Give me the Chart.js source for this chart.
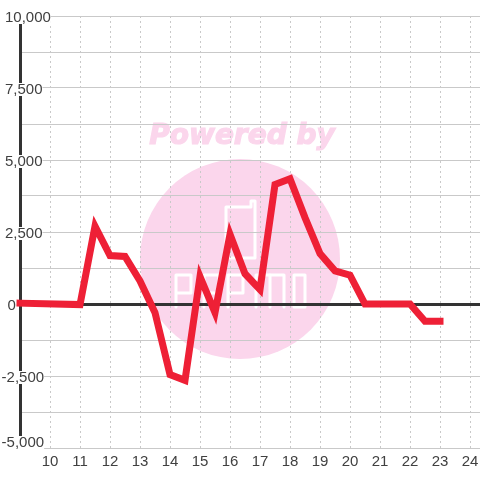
<!DOCTYPE html>
<html>
<head>
<meta charset="utf-8">
<style>html,body{margin:0;padding:0;background:#fff}canvas{display:block}</style>
<script src="https://cdn.jsdelivr.net/npm/chart.js@4"></script>
</head>
<body>
<div style="width:480px;height:480px"><canvas id="c" width="480" height="480"></canvas></div>
<script>
const hours = [9,11,11.5,12,12.5,13,13.5,14,14.5,15,15.5,16,16.5,17,17.5,18,18.5,19,19.5,20,20.5,21,21.5,22,22.5,23];
const values = [30,-20,2700,1680,1650,800,-300,-2450,-2650,950,-300,2420,1050,500,4150,4350,3000,1750,1150,1000,0,0,0,0,-600,-600];
const yTickLabels = [10000,7500,5000,2500,0,-2500,-5000];
const watermarkText = 'Powered by';

const GRID = '#c9c9c9', DARK = '#333333', TEXT = '#404040', PINK = '#fbd6ec';
const FONT = '15px "Liberation Sans"';

const watermark = {
  id: 'watermark',
  beforeDraw(chart) {
    const c = chart.ctx;
    c.save();
    c.fillStyle = '#fff';
    c.fillRect(0, 0, 480, 480);
    c.fillStyle = PINK;
    c.beginPath();
    c.arc(240, 259, 100, 0, Math.PI * 2);
    c.fill();
    c.font = 'italic bold 28px "DejaVu Sans"';
    c.textAlign = 'center';
    c.textBaseline = 'alphabetic';
    c.strokeStyle = PINK;
    c.lineWidth = 1.2;
    c.strokeText(watermarkText, 242, 144);
    c.fillText(watermarkText, 242, 144);
    c.strokeStyle = '#fff';
    c.lineWidth = 3;
    c.lineJoin = 'round';
    c.lineCap = 'round';
    const paths = [
      [[230,258],[255,258],[255,201],[251,201],[251,207],[226,207],[226,252]],
      [[176,307],[176,275],[191,275],[191,293],[176,293]],
      [[204,307],[204,275],[219,275],[219,293],[204,293]],
      [[228,307],[228,275],[243,275],[243,293],[228,293]],
      [[256,307],[256,275],[284,275],[284,307]],
      [[270,275],[270,307]],
      [[294,275],[305,275],[305,307],[294,307],[294,275]]
    ];
    for (const p of paths) {
      c.beginPath();
      p.forEach((q, i) => i ? c.lineTo(q[0], q[1]) : c.moveTo(q[0], q[1]));
      c.stroke();
    }
    c.restore();
  }
};

const yLabels = {
  id: 'yLabels',
  beforeDatasetsDraw(chart) {
    const c = chart.ctx, s = chart.scales.y;
    c.save();
    c.font = FONT;
    c.textAlign = 'left';
    c.textBaseline = 'alphabetic';
    for (const v of yTickLabels) {
      const txt = v.toLocaleString('en-US');
      const x = v < 0 ? 1.6 : v === 0 ? 7.5 : 5;
      const cy = Math.min(s.getPixelForValue(v), s.bottom - 7);
      const w = c.measureText(txt).width;
      c.fillStyle = '#fff';
      c.fillRect(x, cy - 5, w, 13);
      c.fillStyle = TEXT;
      c.fillText(txt, x, cy + 5.5);
    }
    c.restore();
  }
};

new Chart(document.getElementById('c'), {
  type: 'line',
  data: {
    datasets: [{
      data: hours.map((h, i) => ({ x: h, y: values[i] })),
      borderColor: '#ee2036',
      borderWidth: 7,
      borderJoinStyle: 'miter',
      borderCapStyle: 'square',
      pointRadius: 0,
      tension: 0,
      fill: false,
      clip: false
    }]
  },
  plugins: [watermark, yLabels],
  options: {
    responsive: false,
    animation: false,
    events: [],
    layout: { padding: { left: 20, top: 16, right: 0, bottom: 0 } },
    plugins: { legend: { display: false }, tooltip: { enabled: false } },
    scales: {
      x: {
        type: 'linear',
        min: 9,
        max: 24.3333,
        afterFit(s) { s.height = 32; s.paddingLeft = 0; s.paddingRight = 0; },
        afterBuildTicks(s) { s.ticks = s.ticks.filter(t => Number.isInteger(t.value) && t.value >= 10); },
        border: { display: false, dash: [2, 3] },
        grid: { color: GRID, lineWidth: 1, drawTicks: false },
        ticks: {
          stepSize: 1,
          includeBounds: false,
          autoSkip: false,
          maxRotation: 0,
          padding: 5,
          color: TEXT,
          font: { family: 'Liberation Sans', size: 15 },
          callback: v => String(v)
        }
      },
      y: {
        min: -5000,
        max: 10000,
        afterFit(s) { s.width = 0; s.paddingTop = 0; s.paddingBottom = 0; },
        border: { display: true, color: DARK, width: 3 },
        grid: {
          color: ctx => ctx.tick && ctx.tick.value === 0 ? DARK : GRID,
          lineWidth: ctx => ctx.tick && ctx.tick.value === 0 ? 3 : 1,
          drawTicks: false
        },
        ticks: { stepSize: 1250, display: false }
      }
    }
  }
});
</script>
</body>
</html>
